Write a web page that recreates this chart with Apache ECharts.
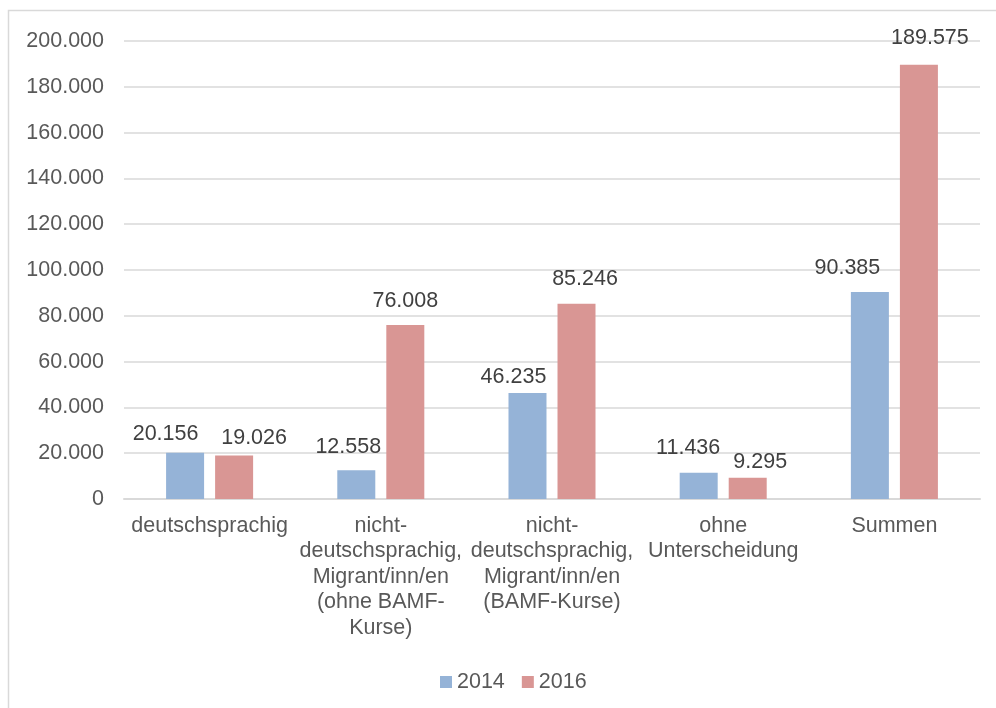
<!DOCTYPE html>
<html><head><meta charset="utf-8">
<script src="https://cdn.jsdelivr.net/npm/echarts@6/dist/echarts.min.js"></script>
<style>html,body{margin:0;padding:0;background:#fff}#c{width:996px;height:708px}</style>
</head><body><div id="c"></div>
<script>
const categories = ["deutschsprachig", "nicht-\ndeutschsprachig,\nMigrant/inn/en\n(ohne BAMF-\nKurse)", "nicht-\ndeutschsprachig,\nMigrant/inn/en\n(BAMF-Kurse)", "ohne\nUnterscheidung", "Summen"];
const values2014 = [20156, 12558, 46235, 11436, 90385];
const values2016 = [19026, 76008, 85246, 9295, 189575];
const seriesNames = ["2014", "2016"];
// manual label placement offsets (as in the source chart)
const labelOffsets2014 = [[-19.5, 5.5], [-8, 0.5], [-14, 8], [-10.5, -0.5], [-22.5, 0]];
const labelOffsets2016 = [[20, 6.5], [0, 0], [8.5, -0.5], [12.5, 8], [11, -2.7]];

function de(v){ return String(v).replace(/\B(?=(\d{3})+(?!\d))/g, "."); }
const font = "'Liberation Sans', Arial, sans-serif";
const FS = 21.5;
function items(vals, offs){
  return vals.map((v,i)=>({value:v, label:{offset:offs[i]}}));
}
const labelBase = {show:true, position:'top', distance:13, fontFamily:font, fontSize:FS, color:'#404040', formatter:p=>de(p.value)};
const chart = echarts.init(document.getElementById('c'));
chart.setOption({
  animation:false,
  graphic:[{type:'rect', shape:{x:8.5,y:10.5,width:1000,height:720}, style:{fill:'none', stroke:'#d9d9d9', lineWidth:1.5}, silent:true}],
  grid:{left:124, right:16, top:41, bottom:209},
  legend:{top:666, left:435, itemWidth:12, itemHeight:12, itemGap:17, icon:'rect',
    textStyle:{fontFamily:font, fontSize:FS, color:'#595959'}, data:seriesNames},
  xAxis:{type:'category', data:categories,
    axisLine:{lineStyle:{color:'#d9d9d9', width:2}}, axisTick:{show:false},
    axisLabel:{interval:0, fontFamily:font, fontSize:FS, color:'#595959', lineHeight:25.5, margin:14}},
  yAxis:{type:'value', min:0, max:200000, interval:20000,
    axisLine:{show:false}, axisTick:{show:false},
    splitLine:{lineStyle:{color:'#d9d9d9', width:1.5}},
    axisLabel:{fontFamily:font, fontSize:FS, color:'#595959', margin:20, formatter:v=>de(v)}},
  series:[
    {name:seriesNames[0], type:'bar', data:items(values2014, labelOffsets2014), barWidth:38, barGap:'29%',
     itemStyle:{color:'#95b3d7'}, label:labelBase},
    {name:seriesNames[1], type:'bar', data:items(values2016, labelOffsets2016), barWidth:38,
     itemStyle:{color:'#d99694'}, label:labelBase}
  ]
});
</script></body></html>
